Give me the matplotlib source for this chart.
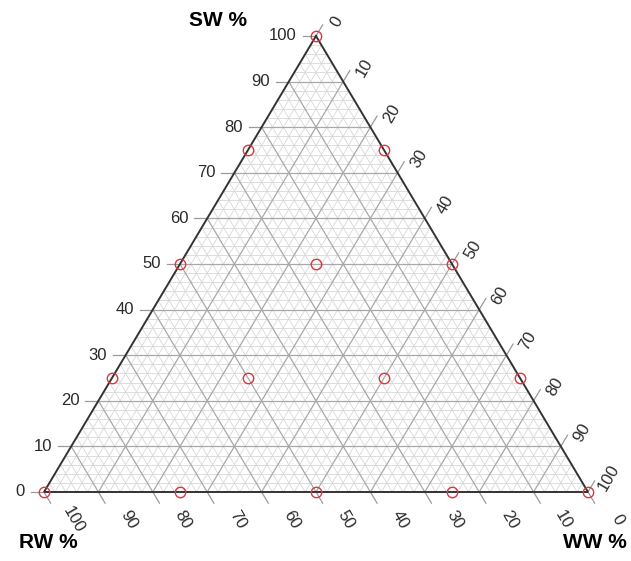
import matplotlib
matplotlib.use("Agg")
import matplotlib.pyplot as plt

# ---- data ----
sw_pts = [100, 75, 75, 50, 50, 50, 25, 25, 25, 25, 0, 0, 0, 0, 0]
ww_pts = [0, 0, 25, 0, 25, 50, 0, 25, 50, 75, 0, 25, 50, 75, 100]
rw_pts = [0, 25, 0, 50, 25, 0, 75, 50, 25, 0, 100, 75, 50, 25, 0]
major_ticks = list(range(0, 101, 10))
minor_ticks = [v for v in range(0, 101, 2) if v % 10 != 0]
axis_titles = ["SW %", "RW %", "WW %"]

plt.rcParams['font.family'] = ['Liberation Sans', 'DejaVu Sans']

W, H = 631, 561
fig = plt.figure(figsize=(W / 100, H / 100), dpi=100)
L, R, T, B = 44, 588, 36, 492
ax = fig.add_axes([L / W, 1 - B / H, (R - L) / W, (B - T) / H])
ax.set_xlim(0, 100)
ax.set_ylim(0, 100)
ax.axis('off')
sx = (R - L) / 100.0
sy = (B - T) / 100.0


def tern(sw, ww, rw):
    tot = sw + ww + rw
    sw, ww = 100.0 * sw / tot, 100.0 * ww / tot
    return ww + sw / 2.0, sw


def line3(a, b, **kw):
    ax.plot([a[0], b[0]], [a[1], b[1]], **kw)


# grid
for vals, col, lw in [(minor_ticks, '#d8d8d8', 0.6), ([v for v in major_ticks if 0 < v < 100], '#a8a8a8', 0.9)]:
    for v in vals:
        line3(tern(v, 0, 100 - v), tern(v, 100 - v, 0), color=col, lw=lw, zorder=1)
        line3(tern(0, v, 100 - v), tern(100 - v, v, 0), color=col, lw=lw, zorder=1)
        line3(tern(0, 100 - v, v), tern(100 - v, 0, v), color=col, lw=lw, zorder=1)

# border
tri = [tern(100, 0, 0), tern(0, 0, 100), tern(0, 100, 0), tern(100, 0, 0)]
ax.plot([p[0] for p in tri], [p[1] for p in tri], color='#333333', lw=1.4, zorder=3,
        solid_joinstyle='miter', clip_on=False)

# ticks and labels
tl = 13.0
ux, uy = 0.512, 0.859
lab_kw = dict(textcoords='offset pixels', fontsize=12, color='#2a2a2a')
for v in major_ticks:
    # SW (left)
    p = tern(v, 0, 100 - v)
    line3(p, (p[0] - tl / sx, p[1]), color='#9a9a9a', lw=0.9, clip_on=False)
    ax.annotate(str(v), xy=p, xytext=(-19, 0), ha='right', va='center', **lab_kw)
    # RW (bottom)
    p = tern(0, 100 - v, v)
    line3(p, (p[0] + tl * ux / sx, p[1] - tl * uy / sy), color='#9a9a9a', lw=0.9, clip_on=False)
    ax.annotate(str(v), xy=p, xytext=(30, -28), ha='center', va='center', rotation=-60, **lab_kw)
    # WW (right)
    p = tern(100 - v, v, 0)
    line3(p, (p[0] + tl * ux / sx, p[1] + tl * uy / sy), color='#9a9a9a', lw=0.9, clip_on=False)
    ax.annotate(str(v), xy=p, xytext=(21, 14), ha='center', va='center', rotation=60, **lab_kw)

# points
xs, ys = zip(*[tern(s, w, r) for s, w, r in zip(sw_pts, ww_pts, rw_pts)])
ax.plot(xs, ys, 'o', ms=7.5, mfc='none', mec='#e4333c', mew=1.0, zorder=5, clip_on=False)

# axis titles
fig.text(218 / W, 1 - 20 / H, axis_titles[0], ha='center', va='center', fontsize=15, fontweight='bold')
fig.text(48 / W, 1 - 543 / H, axis_titles[1], ha='center', va='center', fontsize=15, fontweight='bold')
fig.text(595 / W, 1 - 543 / H, axis_titles[2], ha='center', va='center', fontsize=15, fontweight='bold')

fig.savefig('out.png', dpi=100)
